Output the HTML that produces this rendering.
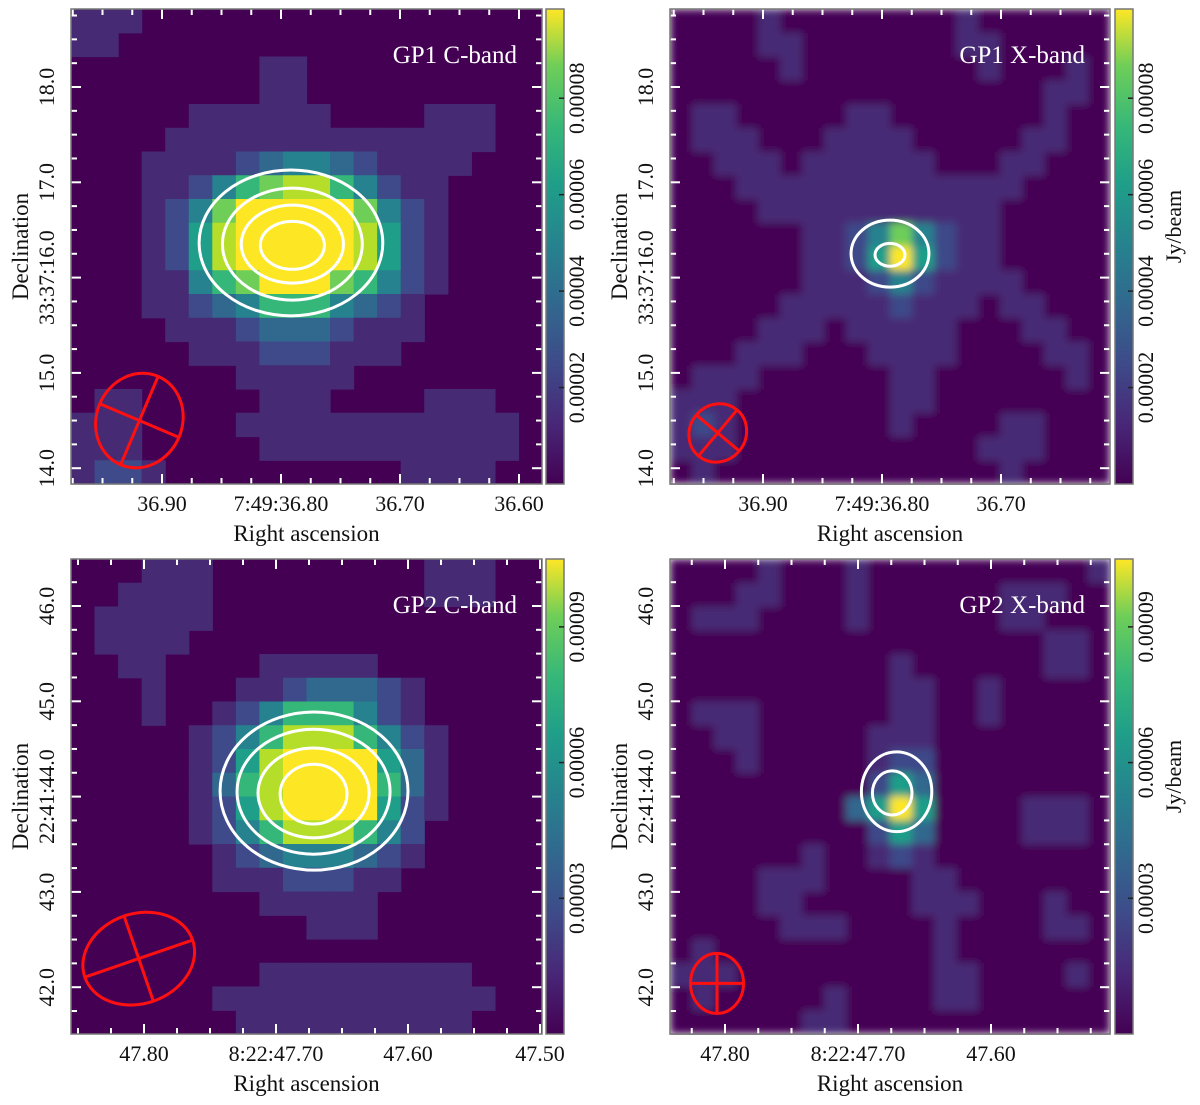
<!DOCTYPE html>
<html><head><meta charset="utf-8"><style>
html,body{margin:0;padding:0;background:#fff;}
svg{display:block;font-family:"Liberation Serif",serif;}
</style></head><body>
<svg id="fig" xmlns="http://www.w3.org/2000/svg" width="1200" height="1105" viewBox="0 0 1200 1105">
<defs>
<linearGradient id="vir" x1="0" y1="1" x2="0" y2="0">
<stop offset="0" stop-color="#440154"/><stop offset="0.13" stop-color="#482878"/><stop offset="0.25" stop-color="#3e4a89"/><stop offset="0.38" stop-color="#31688e"/><stop offset="0.5" stop-color="#26828e"/><stop offset="0.63" stop-color="#1f9e89"/><stop offset="0.75" stop-color="#35b779"/><stop offset="0.88" stop-color="#6ece58"/><stop offset="1" stop-color="#fde725"/>
</linearGradient>
<filter id="soft" x="0" y="0" width="1" height="1"><feGaussianBlur stdDeviation="4"/></filter>
</defs>
</svg>
<script>
// ---- data ----
const grid1 = ["11100000000000000000","11000000000000000000","00000000110000000000","00000000110000000000","00000111111000011100","00001111111111111100","00011112344321111000","00011246788642110000","00012479999974210000","00012589999985210000","00012589999985210000","00011467999764210000","00011234666432100000","00001112333211100000","00000111222111000000","00000001111100000000","01100000111000011100","11100001111111111110","11100000111111111110","12210000000000111100"];
const grid2 = ["00001000000001000000","00001100000001100000","00000100000000100010","00000000000000000110","01100000110000000100","01110001111000001100","00111011111100011000","00011111111111110000","00001111111111100000","00000011247421100000","00000011259521100000","00000011124211110000","00000111112111011000","00001110111110001100","00011100011110000110","01110000001100000010","11100000001100000000","12100000001000011000","11100000000000111000","01000000000000010000"];
const grid3 = ["00011100000000011100","00111100000000011100","01111100000000000000","01111000000000000000","00110000111110000000","00010001123332100000","00010012466642100000","00000124688864210000","00000125899995310000","00000136899996310000","00000125899995210000","00000124688864200000","00000012344432100000","00000011122211000000","00000000111110000000","00000000001110000000","00000000000000000000","00000000111111111000","00000011111111111100","00000001111111111000"];
const grid4 = ["00001000100000000001","00011000100000011100","01110000100000011000","00000000000000000110","00000000001000000110","00000000001100100000","01110000001100100000","00110000011100000000","00010000012200000000","00000000025300000000","00000000359500001110","00000000025300001110","00000010012100000000","00001110000110000000","00001100000111000100","00000111000010000110","01000000000010000000","11100000000011000010","01000001000011000000","00000011000000000000"];
// contours: [cx, cy, rx, ry] in grid cell units
const contours1 = [[9.34,9.85,3.9,3.07],[9.4,9.9,2.97,2.36],[9.4,9.9,2.17,1.64],[9.4,9.95,1.36,1.01]];
const contours2 = [[10.0,10.3,1.77,1.41],[10.0,10.35,0.68,0.48]];
const contours3 = [[10.32,9.77,3.99,3.33],[10.3,9.8,3.25,2.63],[10.3,9.85,2.36,1.89],[10.3,9.9,1.42,1.26]];
const contours4 = [[10.3,9.8,1.6,1.68],[10.1,9.85,0.9,0.93]];
// beams: [RA, Dec, semi-a px, semi-b px, angle]
const beam1 = [36.919, 14.5, 43, 48, 23];
const beam2 = [36.938, 14.37, 28, 30, 40];
const beam3 = [47.804, 42.3, 57, 45, -19];
const beam4 = [47.806, 42.04, 26.5, 30, 0];
const raTicks1 = [36.90, 36.80, 36.70, 36.60];
const raLabels1 = ["36.90","7:49:36.80","36.70","36.60"];
const raTicks2 = [36.90, 36.80, 36.70];
const raLabels2 = ["36.90","7:49:36.80","36.70"];
const raTicks3 = [47.80, 47.70, 47.60, 47.50];
const raLabels3 = ["47.80","8:22:47.70","47.60","47.50"];
const raTicks4 = [47.80, 47.70, 47.60];
const raLabels4 = ["47.80","8:22:47.70","47.60"];
const decTicks1 = [18.0, 17.0, 16.0, 15.0, 14.0];
const decLabels1 = ["18.0","17.0","33:37:16.0","15.0","14.0"];
const decTicks3 = [46.0, 45.0, 44.0, 43.0, 42.0];
const decLabels3 = ["46.0","45.0","22:41:44.0","43.0","42.0"];
const cbTicks1 = [0.00002,0.00004,0.00006,0.00008];
const cbLabels1 = ["0.00002","0.00004","0.00006","0.00008"];
const cbTicks3 = [0.00003,0.00006,0.00009];
const cbLabels3 = ["0.00003","0.00006","0.00009"];

const VIR = ["#440154","#462a74","#3e4a89","#31688e","#26828e","#1f9e89","#35b779","#6ece58","#b5de2b","#fde725"];
const NS = "http://www.w3.org/2000/svg";
const svg = document.getElementById('fig');
function mk(tag, attrs, parent){const e=document.createElementNS(NS,tag);for(const k in attrs)e.setAttribute(k,attrs[k]);(parent||svg).appendChild(e);return e;}

function panel(o){
  const g = mk('g',{});
  
  
  const W=o.x1-o.x0, H=o.y1-o.y0, nr=o.grid.length, nc=o.grid[0].length;
  const cw=W/nc, ch=H/nr;
  const xr = ra => o.xRef + (o.raRef - ra)*o.pxRa;
  const yd = d => o.yRef + (o.decRef - d)*o.pxDec;
  const gx = c => o.x0 + c*cw, gy = r => o.y0 + r*ch;
  const hm = mk('g', o.smooth?{filter:'url(#soft)'}:{}, g);
  
  
  mk('rect',{x:o.x0,y:o.y0,width:W,height:H,fill:VIR[0]},hm);
  for(let r=0;r<nr;r++)for(let c=0;c<nc;c++){
    const v=+o.grid[r][c]; if(!v) continue;
    const cell=mk('rect',{x:gx(c),y:gy(r),width:cw+0.6,height:ch+0.6,fill:VIR[v]},hm);
    
    
  }
  o.contours.forEach(ct=>{
    const e=mk('ellipse',{cx:gx(ct[0]),cy:gy(ct[1]),rx:ct[2]*cw,ry:ct[3]*ch,fill:'none',stroke:'#fff','stroke-width':3},g);
    
    
  });
  const b=o.beam, bx=xr(b[0]), by=yd(b[1]);
  const bg=mk('g',{transform:`translate(${bx},${by}) rotate(${b[4]})`,stroke:'#ff1010','stroke-width':3,fill:'none'},g);
  
  
  mk('ellipse',{cx:0,cy:0,rx:b[2],ry:b[3]},bg);
  mk('line',{x1:-b[2],y1:0,x2:b[2],y2:0},bg);
  mk('line',{x1:0,y1:-b[3],x2:0,y2:b[3]},bg);
  const tk=mk('g',{stroke:'#fff','stroke-width':2},g);
  
  
  const raStep=o.raMinor;
  for(let i=-40;i<=40;i++){
    const ra=o.raRef+i*raStep; const x=xr(ra); if(x<o.x0+1||x>o.x1-1) continue;
    const major = i%4===0;
    const L=major?10:6;
    mk('line',{x1:x,y1:o.y1,x2:x,y2:o.y1-L},tk); mk('line',{x1:x,y1:o.y0,x2:x,y2:o.y0+L},tk);
  }
  for(let i=-40;i<=40;i++){
    const d=o.decRef+i*0.25; const y=yd(d); if(y<o.y0+1||y>o.y1-1) continue;
    const major = i%4===0; const L=major?10:6;
    mk('line',{x1:o.x0,y1:y,x2:o.x0+L,y2:y},tk); mk('line',{x1:o.x1,y1:y,x2:o.x1-L,y2:y},tk);
  }
  mk('rect',{x:o.x0,y:o.y0,width:W,height:H,fill:'none',stroke:'#777','stroke-width':1.5},g);
  o.raTicks.forEach((ra,i)=>{
    const t=mk('text',{x:xr(ra),y:o.y1+27,'text-anchor':'middle','font-size':22,fill:'#111'},g);
    t.textContent=o.raLabels[i];
    
    
  });
  o.decTicks.forEach((d,i)=>{
    const y=yd(d), x=o.x0-17;
    const t=mk('text',{x:x,y:y,'text-anchor':'middle','font-size':22,fill:'#111',transform:`rotate(-90 ${x} ${y})`},g);
    t.textContent=o.decLabels[i];
    
    
  });
  const xt=mk('text',{x:(o.x0+o.x1)/2,y:o.y1+57,'text-anchor':'middle','font-size':23,fill:'#111'},g);
  xt.textContent='Right ascension';
  
  
  const yx=o.x0-43, yy=(o.y0+o.y1)/2;
  const yt=mk('text',{x:yx,y:yy,'text-anchor':'middle','font-size':23,fill:'#111',transform:`rotate(-90 ${yx} ${yy})`},g);
  yt.textContent='Declination';
  
  
  const ti=mk('text',{x:o.x1-25,y:o.y0+54,'text-anchor':'end','font-size':25,fill:'#fff'},g);
  ti.textContent=o.title;
  
  
  const cb=mk('g',{},g);
  
  
  mk('rect',{x:o.cbx,y:o.y0,width:18,height:H,fill:'url(#vir)',stroke:'#777','stroke-width':1.5},cb);
  const cy = v => o.y1 - v/o.cbMax*H;
  o.cbTicks.forEach((v,i)=>{
    const y=cy(v);
    mk('line',{x1:o.cbx+18,y1:y,x2:o.cbx+13,y2:y,stroke:'#222','stroke-width':1.5},cb);
    const x=o.cbx+38;
    const t=mk('text',{x:x,y:y,'text-anchor':'middle','font-size':22,fill:'#111',transform:`rotate(-90 ${x} ${y})`},cb);
    t.textContent=o.cbLabels[i];
    
    
  });
  if(o.unit){
    const x=o.cbx+66, y=(o.y0+o.y1)/2-20;
    const t=mk('text',{x:x,y:y,'text-anchor':'middle','font-size':22,fill:'#111',transform:`rotate(-90 ${x} ${y})`},cb);
    t.textContent='Jy/beam';
    
    
  }
}

panel({name:'gp1-c-band-panel',title:'GP1 C-band',grid:grid1,contours:contours1,beam:beam1,x0:71,x1:542,y0:9,y1:484,
  raRef:36.90,xRef:162,pxRa:1190,raMinor:0.025,decRef:18.0,yRef:87,pxDec:95.3,
  raTicks:raTicks1,raLabels:raLabels1,decTicks:decTicks1,decLabels:decLabels1,cbx:546,cbMax:0.0000985,cbTicks:cbTicks1,cbLabels:cbLabels1});
panel({name:'gp1-x-band-panel',title:'GP1 X-band',grid:grid2,contours:contours2,beam:beam2,x0:670,x1:1110,y0:9,y1:484,smooth:true,
  raRef:36.80,xRef:882,pxRa:1190,raMinor:0.025,decRef:18.0,yRef:87,pxDec:95.3,
  raTicks:raTicks2,raLabels:raLabels2,decTicks:decTicks1,decLabels:decLabels1,cbx:1115,cbMax:0.0000985,cbTicks:cbTicks1,cbLabels:cbLabels1,unit:true});
panel({name:'gp2-c-band-panel',title:'GP2 C-band',grid:grid3,contours:contours3,beam:beam3,x0:71,x1:542,y0:559,y1:1034,
  raRef:47.80,xRef:144,pxRa:1320,raMinor:0.025,decRef:46.0,yRef:606,pxDec:95.3,
  raTicks:raTicks3,raLabels:raLabels3,decTicks:decTicks3,decLabels:decLabels3,cbx:546,cbMax:0.000105,cbTicks:cbTicks3,cbLabels:cbLabels3});
panel({name:'gp2-x-band-panel',title:'GP2 X-band',grid:grid4,contours:contours4,beam:beam4,x0:670,x1:1110,y0:559,y1:1034,smooth:true,
  raRef:47.80,xRef:725,pxRa:1330,raMinor:0.025,decRef:46.0,yRef:606,pxDec:95.3,
  raTicks:raTicks4,raLabels:raLabels4,decTicks:decTicks3,decLabels:decLabels3,cbx:1115,cbMax:0.000105,cbTicks:cbTicks3,cbLabels:cbLabels3,unit:true});
</script>
</body></html>
